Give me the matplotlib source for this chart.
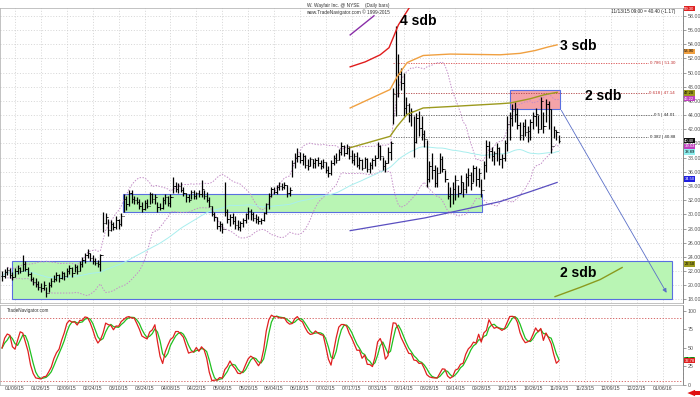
import matplotlib
matplotlib.use('Agg')
import matplotlib.pyplot as plt
import numpy as np
import pandas as pd
from matplotlib.patches import Rectangle

plt.rcParams['font.family'] = ['Liberation Sans', 'DejaVu Sans']

# daily bars, W (Wayfair), Jan 2 - Nov 13 2015, one entry per trading day
hi = [22.0, 22.3, 22.6, 22.4, 21.8, 22.5, 22.8, 22.6, 24.3, 23.4,
      22.6, 21.9, 21.2, 21.0, 20.6, 20.3, 20.6, 19.8, 20.4, 21.0,
      21.4, 21.8, 21.6, 22.0, 21.8, 22.4, 22.9, 22.6, 23.0, 22.8,
      23.4, 24.0, 24.6, 25.1, 24.6, 24.2, 23.8, 23.6, 24.4, 30.4,
      30.2, 29.4, 29.2, 28.9, 29.7, 29.4, 30.2, 32.8, 32.6, 33.5,
      33.4, 32.6, 32.5, 32.1, 31.8, 32.0, 32.2, 33.2, 33.0, 32.8,
      31.8, 31.6, 32.4, 32.8, 32.6, 32.8, 35.2, 34.5, 34.4, 34.5,
      33.8, 33.0, 32.8, 33.5, 33.4, 33.2, 33.5, 34.8, 33.5, 33.2,
      32.4, 31.2, 30.3, 29.6, 29.0, 28.8, 34.5, 30.7, 30.0, 30.2,
      29.7, 29.2, 29.0, 29.5, 30.2, 31.0, 30.7, 30.4, 30.0, 29.7,
      29.5, 30.4, 31.6, 33.0, 33.9, 33.8, 34.2, 34.6, 34.4, 34.6,
      34.2, 33.9, 37.6, 38.7, 39.4, 38.8, 38.6, 38.4, 37.8, 38.1,
      37.8, 38.0, 38.1, 37.6, 37.8, 37.4, 36.8, 37.6, 38.3, 38.7,
      39.2, 40.2, 39.8, 39.9, 39.6, 39.1, 38.6, 38.8, 38.1, 37.8,
      38.1, 37.9, 37.4, 38.0, 38.4, 40.2, 39.8, 38.1, 37.6, 39.5,
      40.4, 47.8, 56.6, 52.6, 50.6, 50.0, 46.6, 45.7, 45.0, 43.8,
      44.3, 44.6, 43.8, 41.9, 40.5, 37.5, 38.7, 37.0, 36.7, 38.7,
      38.2, 36.3, 34.5, 33.9, 34.5, 35.5, 34.2, 35.5, 34.5, 35.8,
      36.5, 36.0, 37.0, 36.8, 36.5, 35.0, 37.5, 40.5, 40.3, 39.5,
      39.0, 40.0, 39.5, 38.5, 40.5, 43.8, 44.5, 45.5, 45.8, 45.0,
      43.0, 43.0, 43.5, 42.5, 43.4, 44.5, 45.0, 44.0, 46.6, 44.5,
      46.2, 46.0, 44.8, 42.4, 41.9, 41.2]
lo = [20.6, 21.0, 21.4, 21.0, 20.8, 21.2, 21.6, 21.7, 22.0, 22.0,
      21.3, 20.6, 20.0, 19.8, 19.4, 19.1, 19.3, 18.4, 19.0, 19.8,
      20.4, 20.6, 20.5, 20.9, 20.8, 21.2, 21.6, 21.2, 21.8, 21.6,
      22.0, 22.6, 23.2, 23.8, 23.4, 23.0, 22.8, 22.6, 22.0, 27.5,
      28.6, 26.9, 27.6, 27.8, 28.0, 28.0, 28.4, 30.4, 30.6, 31.2,
      31.6, 31.4, 31.5, 30.8, 30.4, 30.6, 30.9, 31.4, 31.6, 31.5,
      30.4, 30.6, 30.8, 31.4, 31.2, 31.0, 33.0, 33.2, 33.0, 33.2,
      32.6, 31.8, 31.7, 32.1, 32.2, 32.1, 32.4, 32.5, 32.2, 31.7,
      31.0, 29.8, 29.0, 28.0, 27.6, 27.4, 29.7, 28.8, 28.3, 28.6,
      28.0, 27.8, 27.6, 28.2, 28.8, 29.4, 29.2, 29.0, 28.8, 28.6,
      28.6, 29.0, 30.0, 30.8, 32.4, 32.8, 32.9, 33.4, 33.5, 33.6,
      32.5, 32.6, 35.3, 36.6, 37.4, 37.3, 37.0, 36.6, 36.3, 36.8,
      36.6, 36.5, 36.8, 36.4, 36.6, 35.8, 35.3, 35.6, 36.9, 37.2,
      37.6, 38.4, 38.2, 38.5, 37.8, 37.2, 36.9, 36.7, 36.4, 36.2,
      36.5, 36.0, 35.9, 36.4, 36.8, 37.9, 37.7, 36.2, 36.0, 37.2,
      37.7, 42.8, 43.8, 46.5, 47.6, 43.8, 44.2, 43.0, 42.5, 38.1,
      40.0, 41.0, 40.5, 39.5, 33.9, 34.5, 35.0, 33.8, 33.9, 35.9,
      36.0, 34.5, 32.1, 31.1, 31.5, 32.0, 32.5, 33.0, 32.5, 33.0,
      34.0, 33.5, 34.5, 34.0, 33.8, 32.5, 35.0, 36.0, 38.0, 37.5,
      37.0, 37.5, 37.0, 36.5, 37.5, 39.0, 40.5, 42.5, 43.0, 42.0,
      40.5, 40.5, 41.0, 40.2, 40.5, 42.0, 42.5, 41.5, 42.0, 41.5,
      43.0, 42.0, 38.7, 40.8, 40.5, 40.1]
cl = [21.3, 21.9, 22.2, 21.5, 21.2, 22.0, 22.4, 22.0, 23.0, 22.3,
      21.6, 20.9, 20.5, 20.2, 19.7, 19.6, 20.0, 18.9, 20.0, 20.6,
      20.9, 21.4, 21.0, 21.7, 21.3, 22.0, 22.5, 21.7, 22.6, 22.0,
      23.0, 23.6, 24.2, 24.6, 23.8, 23.4, 23.2, 23.0, 24.2, 28.8,
      29.6, 27.8, 28.6, 28.2, 29.2, 28.6, 29.8, 32.2, 31.4, 33.0,
      32.2, 32.0, 31.8, 31.2, 30.8, 31.6, 31.2, 32.8, 32.2, 32.5,
      31.0, 30.9, 32.0, 32.4, 31.6, 32.5, 34.0, 33.6, 34.0, 33.5,
      33.0, 32.4, 32.0, 33.2, 32.6, 33.0, 32.8, 33.6, 32.6, 32.0,
      31.2, 30.0, 29.6, 28.4, 28.6, 28.0, 30.4, 29.4, 29.6, 29.0,
      28.5, 28.2, 28.8, 29.2, 30.0, 30.5, 30.0, 29.5, 29.4, 29.0,
      29.2, 30.2, 31.4, 32.6, 33.6, 33.2, 33.8, 34.0, 33.9, 34.2,
      33.0, 33.4, 37.2, 38.0, 38.2, 37.6, 38.2, 37.0, 36.8, 37.8,
      37.2, 37.6, 37.2, 36.8, 37.4, 36.2, 35.8, 37.2, 38.0, 37.6,
      38.8, 39.6, 38.6, 39.4, 38.2, 37.6, 38.2, 37.0, 37.6, 36.6,
      37.8, 36.4, 37.0, 37.6, 38.0, 39.6, 38.2, 36.8, 37.2, 38.8,
      40.0, 47.0, 49.5, 49.8, 48.5, 45.0, 45.4, 44.0, 44.6, 40.2,
      43.6, 42.2, 41.4, 40.6, 35.0, 36.8, 36.2, 34.4, 35.8, 37.8,
      36.4, 35.0, 32.6, 32.8, 33.6, 34.8, 33.0, 34.6, 33.6, 35.2,
      35.6, 34.4, 36.5, 35.0, 35.8, 33.4, 37.0, 39.6, 39.0, 38.2,
      38.6, 39.4, 37.8, 38.0, 40.0, 42.8, 43.6, 44.8, 44.2, 42.6,
      41.2, 42.4, 41.6, 41.8, 43.0, 43.8, 44.2, 42.0, 46.0, 42.4,
      45.6, 44.8, 39.6, 41.9, 41.57, 40.4]

# x axis date labels, one every 10 trading days starting at day 5
date_labels = ['01/09/15', '01/26/15', '02/09/15', '02/24/15', '03/10/15',
               '03/24/15', '04/08/15', '04/22/15', '05/06/15', '05/20/15',
               '06/04/15', '06/18/15', '07/02/15', '07/17/15', '07/31/15',
               '08/14/15', '08/28/15', '09/14/15', '09/28/15', '10/12/15',
               '10/26/15', '11/09/15', '11/23/15', '12/09/15', '12/22/15',
               '01/06/16']
date_pos = [5 + 10 * i for i in range(len(date_labels))]

# hand drawn "sdb" lines (day index, price)
red_x = [134.4, 140.2, 146.0, 149.4, 151.0, 153.0, 157.5]
red_y = [50.8, 51.5, 52.5, 53.5, 54.9, 56.7, 59.3]
purple_x = [134.4, 143.6]
purple_y = [55.3, 58.0]
orange_x = [134.4, 149.8, 152.5, 156.4, 162.6, 173.0, 192.3, 200.0, 205.8, 210.8, 214.3]
orange_y = [45.0, 47.6, 49.4, 51.4, 52.4, 52.6, 52.5, 52.7, 53.1, 53.6, 53.9]
olive_x = [134.4, 149.8, 152.5, 156.4, 162.6, 173.0, 192.3, 196.1, 203.9, 209.7, 214.3]
olive_y = [39.4, 41.0, 42.4, 44.1, 45.0, 45.2, 45.6, 45.7, 46.3, 46.9, 47.2]
navy_x = [134.4, 163.3, 192.3, 203.9, 214.3]
navy_y = [27.7, 29.5, 31.8, 33.2, 34.5]
olive2_x = [213.5, 223.2, 230.9, 239.4]
olive2_y = [18.4, 19.7, 20.8, 22.5]

# fibonacci retracement levels
fib_ratio = ['0.786', '0.618', '0.5', '0.382']
fib_level = [51.30, 47.14, 44.01, 40.88]
fib_color = ['#d84848', '#b04040', '#606060', '#606060']

# zones (day from, day to, price low, price high)
zone_upper_green = (46.7, 185.3, 30.4, 32.9)
zone_lower_green = (3.9, 258.7, 18.1, 23.4)
zone_pink = (196.1, 215.4, 44.8, 47.6)

n = len(cl)
x = np.arange(n)
c = pd.Series(cl)
ma = c.rolling(50, min_periods=1).mean()
mid = c.rolling(20, min_periods=3).mean()
sd = c.rolling(20, min_periods=3).std(ddof=0)
bb_up = mid + 2 * sd
bb_dn = mid - 2 * sd
hh = pd.Series(hi).rolling(14, min_periods=1).max()
ll = pd.Series(lo).rolling(14, min_periods=1).min()
raw_k = 100 * (c - ll) / (hh - ll)
k = raw_k.rolling(3, min_periods=1).mean()
d = k.rolling(3, min_periods=1).mean()
op = [cl[0]] + cl[:-1]

fig = plt.figure(figsize=(7, 3.97), dpi=100)
ax = fig.add_axes([0.0, 0.2368, 0.9757, 0.7431])
ax2 = fig.add_axes([0.0, 0.0302, 0.9757, 0.2015], sharex=ax)

grid_kw = dict(color='#c8c8c8', lw=0.5, ls=(0, (1.5, 2.5)), zorder=0)
for p in date_pos:
    ax.axvline(p, **grid_kw)
    ax2.axvline(p, **grid_kw)
for lvl in range(18, 60, 2):
    ax.axhline(lvl, **grid_kw)

# zones
for (x0, x1, y0, y1), fc in [(zone_lower_green, '#b9f5b4'), (zone_upper_green, '#b9f5b4'),
                             (zone_pink, '#f4a3a8')]:
    ax.add_patch(Rectangle((x0, y0), x1 - x0, y1 - y0, facecolor=fc,
                           edgecolor='#5a6fe0', lw=0.8, zorder=1))

# indicators
ax.plot(x, bb_up, color='#c48ec8', lw=0.7, ls=(0, (1.5, 1.5)), zorder=2)
ax.plot(x, bb_dn, color='#c48ec8', lw=0.7, ls=(0, (1.5, 1.5)), zorder=2)
ax.plot(x, ma, color='#a8eeee', lw=0.7, zorder=2)

# fib levels
for r, lvl, col in zip(fib_ratio, fib_level, fib_color):
    ax.plot([151, 259.5], [lvl, lvl], color=col, lw=0.6, ls=(0, (1.5, 1.5)), zorder=2)
    ax.text(259.8, lvl, '%s | %.2f' % (r, lvl), fontsize=3.2, ha='right', va='center',
            color='#c03030' if col != '#606060' else '#202020',
            bbox=dict(facecolor='white', edgecolor='none', pad=0.4), zorder=3)

# price bars
ax.vlines(x, lo, hi, color='black', lw=0.9, zorder=4)
ax.hlines(op, x - 0.45, x, color='black', lw=0.7, zorder=4)
ax.hlines(cl, x, x + 0.45, color='black', lw=0.7, zorder=4)

# sdb lines
ax.plot(red_x, red_y, color='#e01c1c', lw=1.0, zorder=5)
ax.plot(purple_x, purple_y, color='#8a2fa8', lw=1.0, zorder=5)
ax.plot(orange_x, orange_y, color='#f0a040', lw=1.0, zorder=5)
ax.plot(olive_x, olive_y, color='#9c9a1e', lw=1.0, zorder=5)
ax.plot(navy_x, navy_y, color='#5a4fc0', lw=0.9, zorder=5)
ax.plot(olive2_x, olive2_y, color='#8a9a1e', lw=1.0, zorder=5)

ax.annotate('', xy=(257.1, 18.6), xytext=(215.4, 45.0),
            arrowprops=dict(arrowstyle='-|>', color='#5a6fc8', lw=0.6,
                            mutation_scale=6), zorder=6)

lab_kw = dict(fontsize=10, fontweight='bold', color='black', va='center', zorder=7)
ax.text(153.7, 57.2, '4 sdb', **lab_kw)
ax.text(215.4, 53.8, '3 sdb', **lab_kw)
ax.text(225.0, 46.7, '2 sdb', **lab_kw)
ax.text(215.4, 21.7, '2 sdb', **lab_kw)

ax.set_xlim(-0.8, 262.9)
ax.set_ylim(17.6, 59.1)

# right axis
for a in (ax, ax2):
    a.yaxis.tick_right()
    a.tick_params(axis='y', labelsize=3.8, length=2, width=0.4, colors='#555555', pad=1.5)
    a.tick_params(axis='x', length=0)
    for s in ['top', 'left', 'bottom']:
        a.spines[s].set_color('#aaaaaa')
        a.spines[s].set_linewidth(0.5)
    a.spines['right'].set_color('#777777')
    a.spines['right'].set_linewidth(0.6)
ax.set_yticks(range(18, 60, 2))
ax.set_yticklabels(['%.2f' % v for v in range(18, 60, 2)])
ax.set_yticks(np.arange(17.5, 59.5, 0.5), minor=True)
ax.tick_params(axis='y', which='minor', length=1, width=0.3, colors='#777777')
plt.setp(ax.get_xticklabels(), visible=False)

# price tags on the right axis, drawn over the tick labels
def tag(a, y, txt, fc, tc='black'):
    a.text(1.002, y, txt, transform=a.get_yaxis_transform(), fontsize=3.0, color=tc,
           va='center', ha='left', clip_on=False, zorder=8,
           bbox=dict(facecolor=fc, edgecolor='none', pad=0.5))

tag(ax, 59.0, '%.2f' % red_y[-1], '#e02020', 'white')
tag(ax, 53.0, '%.2f' % orange_y[-1], '#f0a040')
tag(ax, 47.1, '%.2f' % olive_y[-1], '#9c9a1e')
tag(ax, 46.3, '%.2f' % bb_up.iloc[-1], '#c040c0', 'white')
tag(ax, cl[-1], '%.2f' % cl[-1], '#111111', 'white')
tag(ax, cl[-1] - 0.8, '%.2f' % bb_dn.iloc[-1], '#c040c0', 'white')
tag(ax, cl[-1] - 1.6, '%.2f' % ma.iloc[-1], '#8ff0f0')
tag(ax, 35.0, '%.2f' % navy_y[-1], '#2020e0', 'white')
tag(ax, 23.0, '%.2f' % olive2_y[-1], '#9c9a1e')

# stochastic panel
ax2.axhline(90, color='#d05050', lw=0.6, ls=(0, (1.5, 2)), zorder=1)
ax2.axhline(5, color='#d05050', lw=0.6, ls=(0, (1.5, 2)), zorder=1)
ax2.plot(x, d, color='#20c020', lw=0.9, zorder=3)
ax2.plot(x, k, color='#e02020', lw=0.9, zorder=4)
ax2.set_ylim(0, 108)
ax2.set_yticks([0, 25, 50, 75, 100])
ax2.set_yticks(range(0, 105, 5), minor=True)
ax2.tick_params(axis='y', which='minor', length=1, width=0.3, colors='#777777')
ax2.set_xticks(date_pos)
ax2.set_xticklabels(date_labels)
ax2.tick_params(axis='x', labelsize=3.6, colors='#444444', pad=1)
tag(ax2, d.iloc[-1], '%.2f' % d.iloc[-1], '#30d030')
tag(ax2, k.iloc[-1], '%.2f' % k.iloc[-1], '#e02020', 'white')
ax2.text(2, 104, 'TradeNavigator.com', fontsize=3.3, color='#333333', va='top')

# small red pointer at the bottom right corner
fig.patches.append(plt.Polygon([[0.982, 0.010], [0.993, 0.002], [0.993, 0.018]],
                               closed=True, transform=fig.transFigure,
                               facecolor='#e01010', edgecolor='none'))
fig.patches.append(Rectangle((0.991, 0.006), 0.009, 0.008, transform=fig.transFigure,
                             facecolor='#e01010', edgecolor='none'))

# header
fig.text(0.497, 0.986, 'W. Wayfair Inc. @ NYSE    (Daily bars)', ha='center', va='center',
         fontsize=3.4, color='#333333')
fig.text(0.497, 0.970, 'www.TradeNavigator.com \u00a9 1999-2015', ha='center', va='center',
         fontsize=3.4, color='#333333')
fig.text(0.965, 0.970, '11/13/15 09:00 = 40.40 (-1.17)', ha='right', va='center',
         fontsize=3.4, color='#222222')

fig.savefig('out.png', dpi=100)
